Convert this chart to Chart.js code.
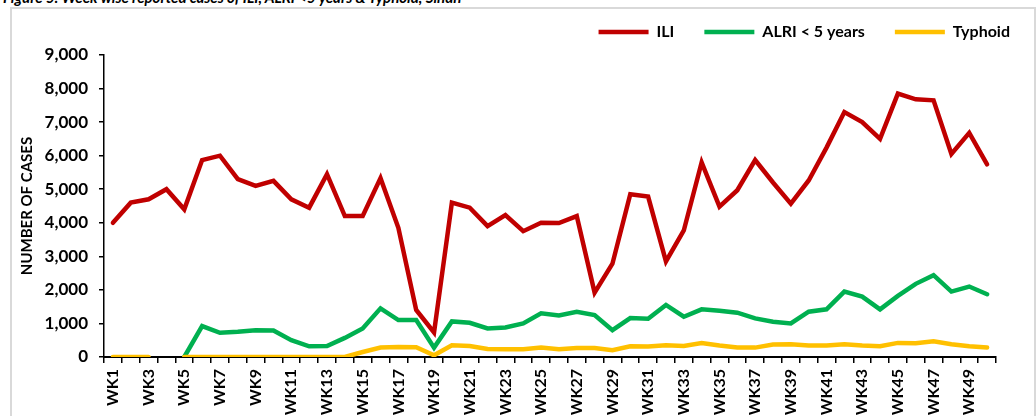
<!DOCTYPE html>
<html>
<head>
<meta charset="utf-8">
<script src="https://cdn.jsdelivr.net/npm/chart.js@4.4.1/dist/chart.umd.min.js"></script>
<style>
  html, body { margin: 0; padding: 0; background: #fff; overflow: hidden; }
  #frame { position: absolute; left: 10px; top: 7px; width: 1022px; height: 430px; border: 2px solid #d9d9d9; }
  #fig-title { position: absolute; left: 3px; top: -10px; font: italic bold 15px Lato, sans-serif; line-height: 15px; color: #000; white-space: nowrap; }
  #chart { position: absolute; left: 0; top: 0; }
</style>
</head>
<body>
<div id="fig-title">Figure 5: Week wise reported cases of ILI, ALRI &lt;5 years &amp; Typhoid, Sindh</div>
<div id="frame"></div>
<canvas id="chart" width="1036" height="416"></canvas>
<script>
// week labels (only every other one is printed on the axis)
const weeks = ['WK1','WK2','WK3','WK4','WK5','WK6','WK7','WK8','WK9','WK10',
  'WK11','WK12','WK13','WK14','WK15','WK16','WK17','WK18','WK19','WK20',
  'WK21','WK22','WK23','WK24','WK25','WK26','WK27','WK28','WK29','WK30',
  'WK31','WK32','WK33','WK34','WK35','WK36','WK37','WK38','WK39','WK40',
  'WK41','WK42','WK43','WK44','WK45','WK46','WK47','WK48','WK49','WK50'];

const iliCases = [4000,4600,4700,5000,4400,5870,6000,5300,5100,5250,
  4700,4450,5450,4200,4200,5330,3850,1400,730,4600,
  4450,3900,4230,3750,4000,3990,4200,1920,2780,4850,
  4780,2850,3770,5800,4480,4970,5870,5200,4570,5260,
  6240,7300,7000,6500,7850,7680,7650,6050,6680,5740];

const alriCases = [null,null,null,null,0,920,720,750,800,790,
  500,320,330,570,850,1450,1100,1100,280,1060,
  1020,850,880,1000,1300,1240,1350,1250,800,1160,
  1140,1550,1200,1420,1380,1320,1150,1050,1000,1350,
  1420,1950,1800,1420,1820,2180,2440,1950,2100,1870];

const typhoidCases = [0,0,0,null,0,0,0,0,0,0,
  0,0,0,0,150,280,300,290,50,350,
  330,240,230,230,280,230,270,270,200,320,
  310,350,330,420,340,280,280,370,380,340,
  340,380,340,320,420,410,470,380,320,280];

const yMax = 9000;
const yStep = 1000;

Chart.defaults.font.family = 'Lato, sans-serif';
Chart.defaults.color = '#000';

function lineSet(label, data, color, order) {
  return {
    label: label,
    data: data,
    borderColor: color,
    backgroundColor: color,
    borderWidth: 4.5,
    borderCapStyle: 'round',
    pointRadius: 0,
    pointStyle: 'line',
    tension: 0,
    spanGaps: false,
    order: order
  };
}

const ctx = document.getElementById('chart').getContext('2d');
new Chart(ctx, {
  type: 'line',
  data: {
    labels: weeks,
    datasets: [
      lineSet('ILI', iliCases, '#C00000', 2),
      lineSet('ALRI < 5 years', alriCases, '#00B050', 1),
      lineSet('Typhoid', typhoidCases, '#FFC000', 0)
    ]
  },
  options: {
    responsive: false,
    animation: false,
    layout: { padding: { top: -6, left: 12, right: -4, bottom: 0 } },
    plugins: {
      tooltip: { enabled: false },
      legend: {
        position: 'top',
        align: 'end',
        labels: {
          usePointStyle: true,
          pointStyle: 'line',
          pointStyleWidth: 50,
          padding: 30,
          color: '#000',
          font: { size: 16, weight: 'bold' },
          sort: (a, b) => a.datasetIndex - b.datasetIndex
        }
      }
    },
    scales: {
      x: {
        offset: true,
        grid: { display: true, offset: true, drawOnChartArea: false, drawTicks: true, tickLength: 6, color: '#000', lineWidth: 1.5 },
        border: { display: true, color: '#000', width: 2 },
        ticks: {
          autoSkip: false,
          maxRotation: 90,
          minRotation: 90,
          padding: 6,
          color: '#000',
          font: { size: 16, weight: 'bold' },
          callback: (v, i) => (i % 2 === 0 ? weeks[i] : '')
        },
        afterFit: s => { s.height = 59; }
      },
      xTop: {
        type: 'category',
        position: 'top',
        grid: { display: false },
        border: { display: false },
        ticks: { display: false },
        afterFit: s => { s.height = 5; }
      },
      y: {
        min: 0,
        max: yMax,
        grid: { display: true, drawOnChartArea: false, drawTicks: true, tickLength: 5, color: '#000', lineWidth: 1.5 },
        border: { display: true, color: '#000', width: 1.5 },
        ticks: {
          stepSize: yStep,
          padding: 11,
          color: '#000',
          font: { size: 17, weight: 'bold' },
          callback: v => v.toLocaleString('en-US')
        },
        title: {
          display: true,
          text: 'NUMBER OF CASES',
          color: '#000',
          font: { size: 15, weight: 'bold' },
          padding: { top: 6, bottom: 0 }
        },
        afterFit: s => { s.width = 92; }
      },
      yRight: {
        type: 'linear',
        position: 'right',
        grid: { display: false },
        border: { display: false },
        ticks: { display: false },
        afterFit: s => { s.width = 44; }
      }
    }
  }
});
</script>
</body>
</html>
